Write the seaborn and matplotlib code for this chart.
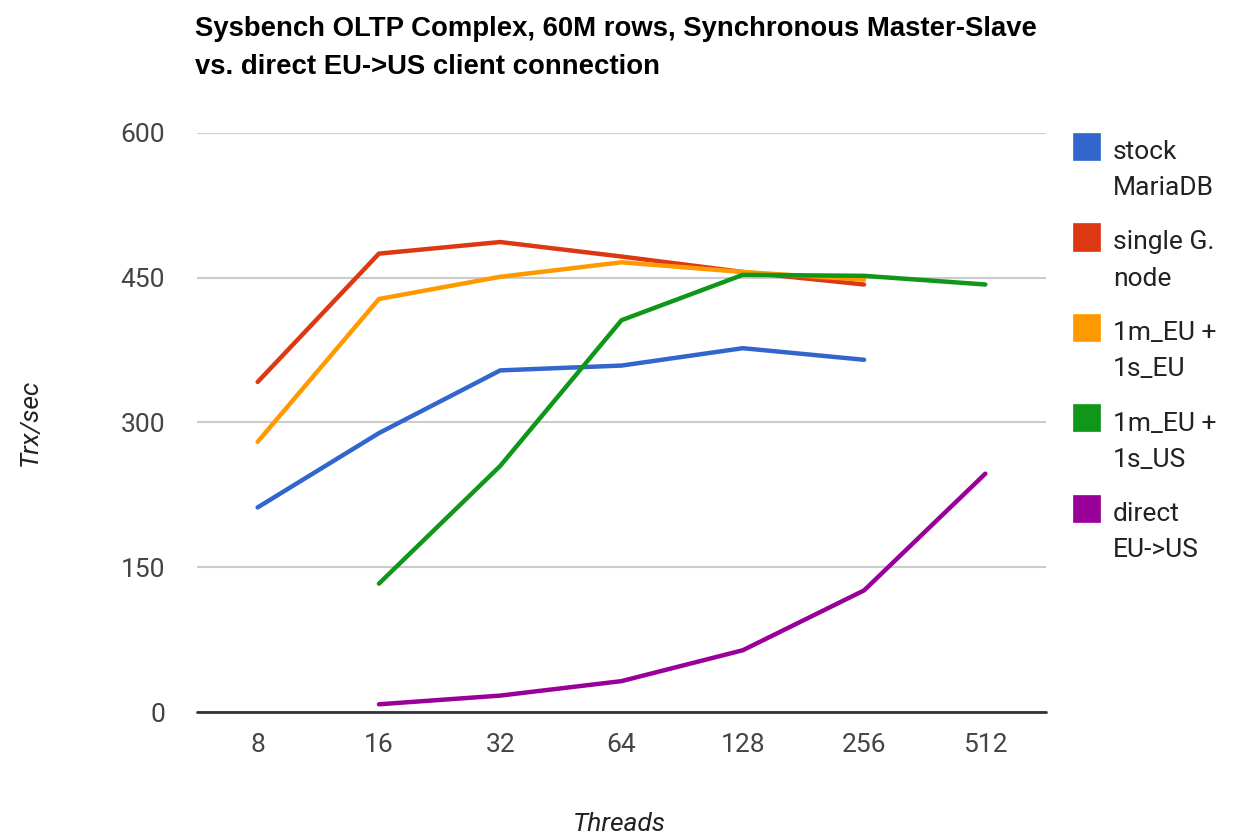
import pandas as pd
import numpy as np
import matplotlib
matplotlib.use("Agg")
import matplotlib.pyplot as plt
import seaborn as sns
from matplotlib.patches import Rectangle

# 데이터
threads = ["8", "16", "32", "64", "128", "256", "512"]
stock_mariadb = [212, 289, 354, 359, 377, 365, np.nan]
single_g_node = [342, 475, 487, 472, 456, 443, np.nan]
eu_eu = [280, 428, 451, 466, 456, 448, np.nan]
eu_us = [np.nan, 133, 255, 406, 453, 452, 443]
direct_eu_us = [np.nan, 8, 17, 32, 64, 126, 247]

series_names = ["stock\nMariaDB", "single G.\nnode", "1m_EU +\n1s_EU",
                "1m_EU +\n1s_US", "direct\nEU->US"]
colors = ["#3366cc", "#dc3912", "#ff9900", "#109618", "#990099"]

df = pd.DataFrame({"Threads": threads,
                   series_names[0]: stock_mariadb,
                   series_names[1]: single_g_node,
                   series_names[2]: eu_eu,
                   series_names[3]: eu_us,
                   series_names[4]: direct_eu_us})
long = df.melt(id_vars="Threads", var_name="series", value_name="trx")

sns.set_style("white")
plt.rcParams["font.family"] = ["Roboto", "DejaVu Sans"]

W, H = 1233, 838
fig = plt.figure(figsize=(W / 100, H / 100), dpi=100)
ax = fig.add_axes([197 / W, 1 - 712 / H, (1046 - 197) / W, (712 - 133) / H])

sns.lineplot(data=long, x="Threads", y="trx", hue="series", palette=colors,
             linewidth=3.2, sort=False, legend=False, ax=ax)

ax.set_xlim(-0.5, 6.5)
ax.set_ylim(0, 600)
ax.set_yticks([0, 150, 300, 450, 600])
ax.grid(axis="y", color="#cccccc", linewidth=1.5)
ax.grid(axis="x", visible=False)
ax.axhline(0, color="#333333", linewidth=2.0, zorder=2, clip_on=False)
for s in ax.spines.values():
    s.set_visible(False)
ax.tick_params(length=0, labelsize=19, labelcolor="#444444")
ax.tick_params(axis="x", pad=15)
ax.tick_params(axis="y", pad=23)

ax.set_xlabel("Threads", fontsize=19, style="italic", color="#222222")
ax.set_ylabel("Trx/sec", fontsize=19, style="italic", color="#222222")
ax.xaxis.set_label_coords(0.498, (712 - 824) / 579)
ax.yaxis.set_label_coords((30 - 197) / 849, 0.5)
ax.xaxis.label.set_va("center")
ax.yaxis.label.set_va("center")

fig.text(195 / W, 1 - 16 / H,
         "Sysbench OLTP Complex, 60M rows, Synchronous Master-Slave\nvs. direct EU->US client connection",
         ha="left", va="top", fontsize=19.8, fontweight="bold", color="#000000",
         family=["Liberation Sans", "DejaVu Sans"], linespacing=1.6)

# 범례 (정사각형 + 두 줄 텍스트)
for i, (name, c) in enumerate(zip(series_names, colors)):
    top = 133 + i * 90.5
    fig.patches.append(Rectangle((1073 / W, 1 - (top + 27) / H), 27 / W, 27 / H,
                                 transform=fig.transFigure, facecolor=c,
                                 edgecolor=c, linewidth=0.5))
    for j, line in enumerate(name.split("\n")):
        fig.text(1113 / W, 1 - (top + 26 + j * 36) / H, line, ha="left",
                 va="baseline", fontsize=19, color="#222222")

fig.savefig("out.png", dpi=100)
